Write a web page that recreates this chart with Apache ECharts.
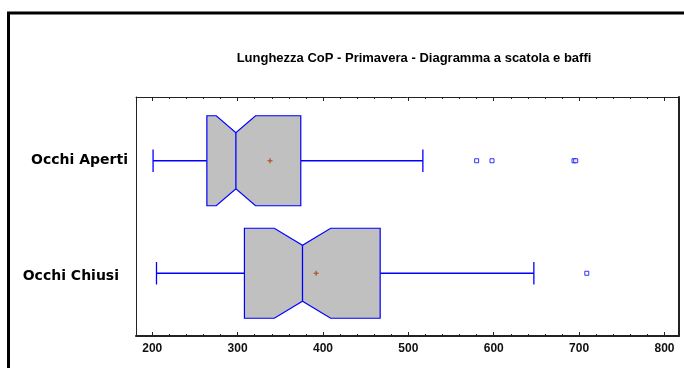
<!DOCTYPE html>
<html>
<head>
<meta charset="utf-8">
<script src="https://cdn.jsdelivr.net/npm/echarts@6/dist/echarts.min.js"></script>
<style>
  html, body { margin: 0; padding: 0; background: #ffffff; }
  #chart { width: 684px; height: 368px; }
</style>
</head>
<body>
<div id="chart"></div>
<script>
// Box-and-whisker data (Lunghezza CoP, primavera)
const categories = ['Occhi Aperti', 'Occhi Chiusi'];
const whiskerLow = [201, 205];
const quartile1 = [264, 308];
const notchLow = [275, 343];
const medians = [298, 376];
const notchHigh = [321, 409];
const quartile3 = [374, 467];
const whiskerHigh = [517, 647];
const means = [338, 392];
const outliersAperti = [580, 598, 694, 696];
const outliersChiusi = [709];

const majorTicks = [200, 300, 400, 500, 600, 700, 800];
const minorTicks = [];
for (let v = 220; v < 800; v += 20) if (v % 100 !== 0) minorTicks.push(v);

const xMin = 181, xMax = 817;
const BLUE = '#0000ff';
const AXIS = '#222222';

const boxData = categories.map((c, i) => [
  i, whiskerLow[i], quartile1[i], notchLow[i], medians[i],
  notchHigh[i], quartile3[i], whiskerHigh[i], means[i]
]);
const outlierData = []
  .concat(outliersAperti.map(v => [v, categories[0]]))
  .concat(outliersChiusi.map(v => [v, categories[1]]));

function renderNotchedBox(params, api) {
  const cat = api.value(0);
  const px = k => api.coord([api.value(k), cat])[0];
  const yc = api.coord([api.value(1), cat])[1];
  const band = api.size([0, 1])[1];
  const half = band * 0.4;
  const indent = half * 0.378;
  const cap = band * 0.1;
  const top = yc - half, bot = yc + half;
  const xl = px(1), q1 = px(2), nl = px(3), md = px(4), nh = px(5), q3 = px(6), xh = px(7), mn = px(8);
  const line = { stroke: BLUE, lineWidth: 1.3 };
  const meanStyle = { stroke: '#b0521e', lineWidth: 1.2 };
  return {
    type: 'group',
    children: [
      { type: 'line', shape: { x1: xl, y1: yc, x2: q1, y2: yc }, style: line },
      { type: 'line', shape: { x1: q3, y1: yc, x2: xh, y2: yc }, style: line },
      { type: 'line', shape: { x1: xl, y1: yc - cap, x2: xl, y2: yc + cap }, style: line },
      { type: 'line', shape: { x1: xh, y1: yc - cap, x2: xh, y2: yc + cap }, style: line },
      {
        type: 'polygon',
        shape: {
          points: [
            [q1, top], [nl, top], [md, top + indent], [nh, top], [q3, top],
            [q3, bot], [nh, bot], [md, bot - indent], [nl, bot], [q1, bot]
          ]
        },
        style: { fill: '#c0c0c0', stroke: BLUE, lineWidth: 1.2 }
      },
      { type: 'line', shape: { x1: md, y1: top + indent, x2: md, y2: bot - indent }, style: line },
      { type: 'line', shape: { x1: mn - 2.5, y1: yc, x2: mn + 2.5, y2: yc }, style: meanStyle },
      { type: 'line', shape: { x1: mn, y1: yc - 2.5, x2: mn, y2: yc + 2.5 }, style: meanStyle }
    ]
  };
}

const frameAxisBase = {
  type: 'value', gridIndex: 0, min: xMin, max: xMax,
  splitLine: { show: false }
};

const option = {
  backgroundColor: '#ffffff',
  animation: false,
  title: {
    text: 'Lunghezza CoP - Primavera - Diagramma a scatola e baffi',
    left: 409, top: 47, textAlign: 'center',
    textStyle: { fontFamily: 'Liberation Sans', fontWeight: 'bold', fontSize: 13, color: '#000' }
  },
  graphic: [{
    type: 'rect', z: 100,
    shape: { x: 8.5, y: 13, width: 690, height: 400 },
    style: { fill: 'none', stroke: '#000', lineWidth: 3 }
  }],
  grid: [
    { left: 136, right: 5, top: 97, bottom: 32 },
    { left: 136, right: 5, top: 104.5, bottom: 38.5 }
  ],
  xAxis: [
    Object.assign({}, frameAxisBase, {
      position: 'bottom',
      axisLine: { show: true, lineStyle: { color: AXIS, width: 2 } },
      axisTick: { show: true, inside: true, length: 4, customValues: majorTicks, lineStyle: { color: AXIS } },
      axisLabel: {
        customValues: majorTicks, margin: 7, color: '#111',
        fontFamily: 'Liberation Sans', fontWeight: 'bold', fontSize: 12
      }
    }),
    Object.assign({}, frameAxisBase, {
      position: 'bottom',
      axisLine: { show: false },
      axisTick: { show: true, inside: true, length: 2, customValues: minorTicks, lineStyle: { color: AXIS } },
      axisLabel: { show: false }
    }),
    Object.assign({}, frameAxisBase, {
      position: 'top',
      axisLine: { show: true, lineStyle: { color: AXIS, width: 1 } },
      axisTick: { show: true, inside: true, length: 4, customValues: majorTicks, lineStyle: { color: AXIS } },
      axisLabel: { show: false }
    }),
    Object.assign({}, frameAxisBase, {
      position: 'top',
      axisLine: { show: false },
      axisTick: { show: true, inside: true, length: 2, customValues: minorTicks, lineStyle: { color: AXIS } },
      axisLabel: { show: false }
    }),
    { type: 'value', gridIndex: 1, min: xMin, max: xMax, show: false }
  ],
  yAxis: [
    {
      type: 'value', gridIndex: 0, position: 'left',
      axisLine: { show: true, lineStyle: { color: AXIS, width: 1 } },
      axisTick: { show: false }, axisLabel: { show: false }, splitLine: { show: false }
    },
    {
      type: 'value', gridIndex: 0, position: 'right',
      axisLine: { show: true, lineStyle: { color: AXIS, width: 2 } },
      axisTick: { show: false }, axisLabel: { show: false }, splitLine: { show: false }
    },
    {
      type: 'category', gridIndex: 1, data: categories, inverse: true,
      axisLine: { show: false }, axisTick: { show: false }, splitLine: { show: false },
      axisLabel: {
        margin: 8,
        formatter: (v, i) => i === 0 ? '{a|' + v + '}' : '{b|' + v + '}',
        rich: {
          a: { fontFamily: 'DejaVu Sans', fontWeight: 'bold', fontSize: 14, color: '#000' },
          b: { fontFamily: 'DejaVu Sans', fontWeight: 'bold', fontSize: 14, color: '#000', padding: [6, 9, 0, 0] }
        }
      }
    }
  ],
  series: [
    {
      type: 'custom', xAxisIndex: 4, yAxisIndex: 2,
      renderItem: renderNotchedBox,
      encode: { x: [1, 2, 3, 4, 5, 6, 7, 8], y: 0 },
      data: boxData
    },
    {
      type: 'scatter', xAxisIndex: 4, yAxisIndex: 2,
      symbol: 'rect', symbolSize: 4,
      itemStyle: { color: '#ffffff', borderColor: BLUE, borderWidth: 1 },
      data: outlierData
    }
  ]
};

const chart = echarts.init(document.getElementById('chart'), null, { renderer: 'canvas' });
chart.setOption(option);
</script>
</body>
</html>
